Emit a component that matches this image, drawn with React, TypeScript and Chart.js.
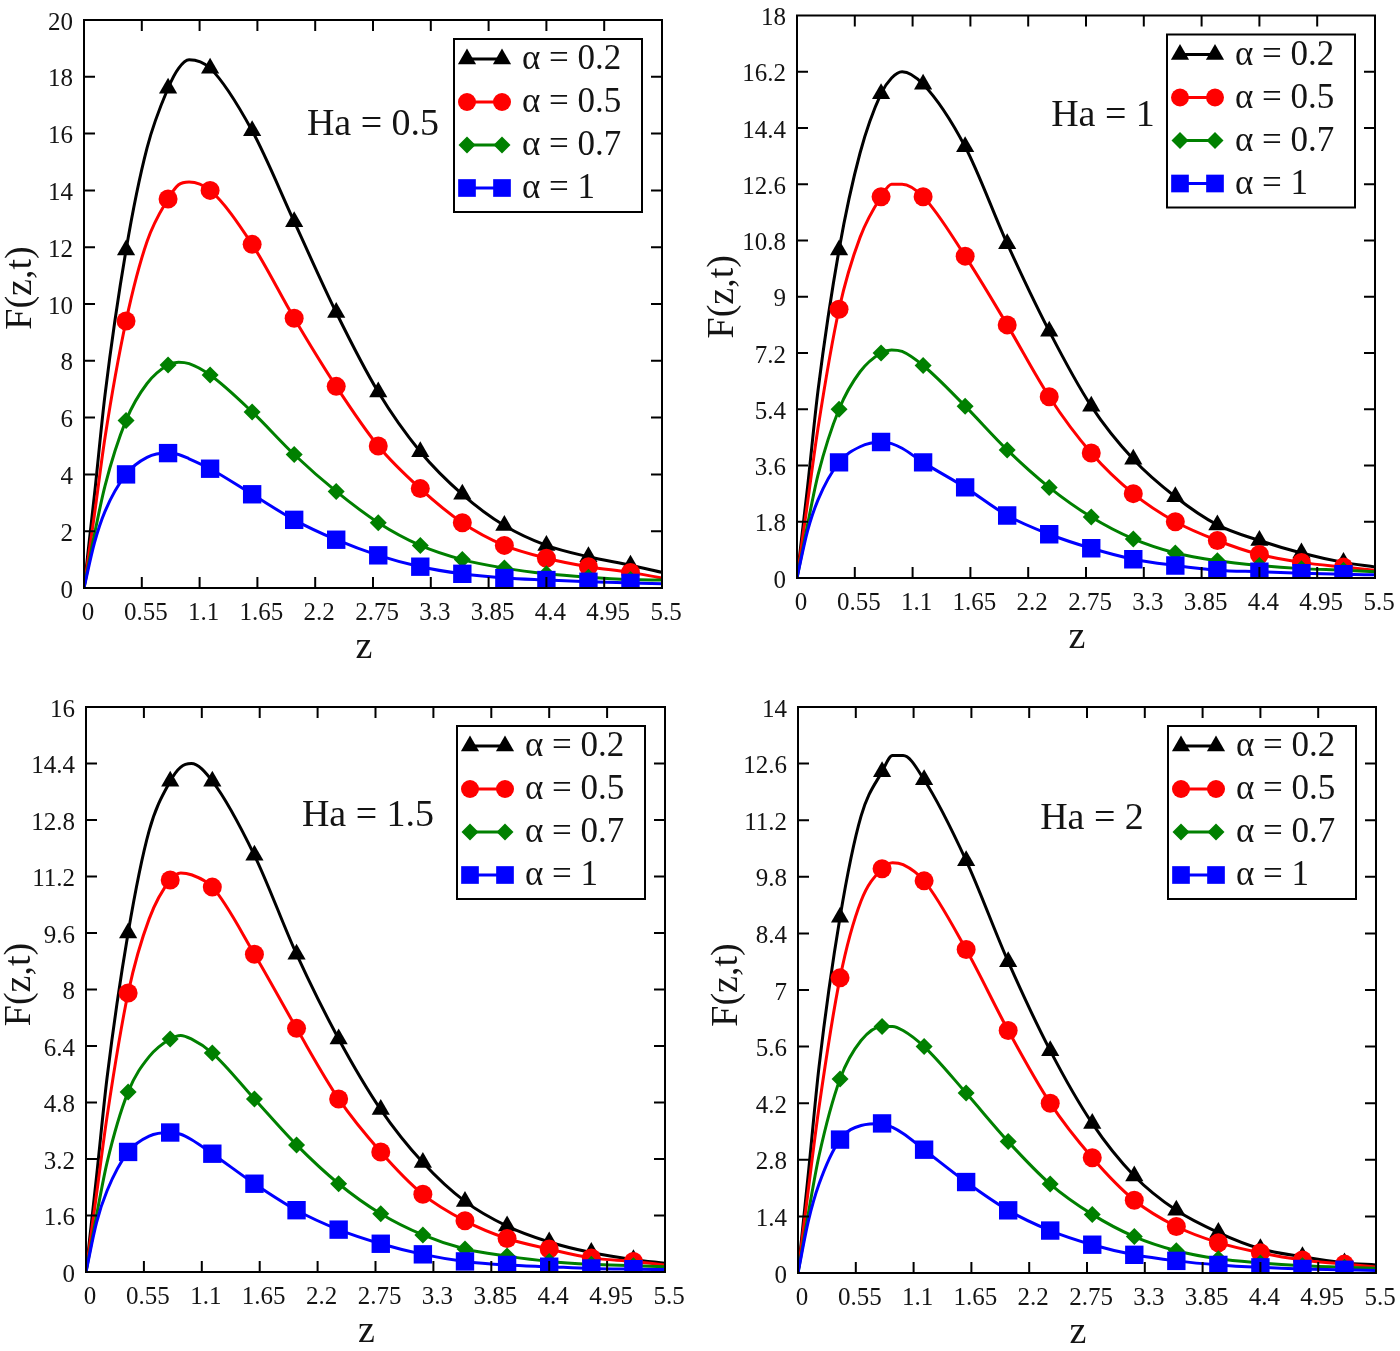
import React, { useEffect, useRef } from "react";
import { Chart, registerables } from "chart.js";

Chart.register(...registerables);

// ---------- data ----------
const Z = [0, 0.1, 0.2, 0.4, 0.6, 0.8, 0.9, 1.0, 1.2, 1.6, 2.0, 2.4, 2.8, 3.2, 3.6, 4.0, 4.4, 4.8, 5.2, 5.5];

const X_TICKS = [0, 0.55, 1.1, 1.65, 2.2, 2.75, 3.3, 3.85, 4.4, 4.95, 5.5];
const X_TICK_LABELS = ["0", "0.55", "1.1", "1.65", "2.2", "2.75", "3.3", "3.85", "4.4", "4.95", "5.5"];

const ALPHA_LABELS = ["\u03b1 = 0.2", "\u03b1 = 0.5", "\u03b1 = 0.7", "\u03b1 = 1"];
const HA_LABELS = ["Ha = 0.5", "Ha = 1", "Ha = 1.5", "Ha = 2"];

const Y_TICKS_HA05 = [0, 2, 4, 6, 8, 10, 12, 14, 16, 18, 20];
const Y_LABELS_HA05 = ["0", "2", "4", "6", "8", "10", "12", "14", "16", "18", "20"];
const Y_TICKS_HA1 = [0, 1.8, 3.6, 5.4, 7.2, 9, 10.8, 12.6, 14.4, 16.2, 18];
const Y_LABELS_HA1 = ["0", "1.8", "3.6", "5.4", "7.2", "9", "10.8", "12.6", "14.4", "16.2", "18"];
const Y_TICKS_HA15 = [0, 1.6, 3.2, 4.8, 6.4, 8, 9.6, 11.2, 12.8, 14.4, 16];
const Y_LABELS_HA15 = ["0", "1.6", "3.2", "4.8", "6.4", "8", "9.6", "11.2", "12.8", "14.4", "16"];
const Y_TICKS_HA2 = [0, 1.4, 2.8, 4.2, 5.6, 7, 8.4, 9.8, 11.2, 12.6, 14];
const Y_LABELS_HA2 = ["0", "1.4", "2.8", "4.2", "5.6", "7", "8.4", "9.8", "11.2", "12.6", "14"];

// Ha = 0.5
const HA05_A02 = [0, 3.3, 6.8, 11.9, 15.5, 17.6, 18.3, 18.6, 18.3, 16.1, 12.9, 9.7, 6.9, 4.8, 3.3, 2.2, 1.5, 1.1, 0.8, 0.55];
const HA05_A05 = [0, 2.6, 5.3, 9.4, 12.2, 13.7, 14.2, 14.3, 14.0, 12.1, 9.5, 7.1, 5.0, 3.5, 2.3, 1.5, 1.05, 0.75, 0.55, 0.35];
const HA05_A07 = [0, 1.9, 3.6, 5.9, 7.2, 7.85, 7.95, 7.9, 7.5, 6.2, 4.7, 3.4, 2.3, 1.5, 1.0, 0.7, 0.5, 0.38, 0.3, 0.28];
const HA05_A1 = [0, 1.6, 2.7, 4.0, 4.6, 4.75, 4.7, 4.55, 4.2, 3.3, 2.4, 1.7, 1.15, 0.75, 0.5, 0.35, 0.28, 0.22, 0.18, 0.15];

// Ha = 1
const HA1_A02 = [0, 2.9, 6.0, 10.5, 13.6, 15.5, 16.0, 16.2, 15.8, 13.8, 10.7, 7.9, 5.5, 3.8, 2.6, 1.7, 1.2, 0.8, 0.5, 0.35];
const HA1_A05 = [0, 2.4, 4.8, 8.6, 10.9, 12.2, 12.6, 12.6, 12.2, 10.3, 8.1, 5.8, 4.0, 2.7, 1.8, 1.2, 0.75, 0.5, 0.35, 0.25];
const HA1_A07 = [0, 1.7, 3.3, 5.4, 6.6, 7.2, 7.3, 7.25, 6.8, 5.5, 4.1, 2.9, 1.95, 1.25, 0.8, 0.55, 0.4, 0.3, 0.25, 0.2];
const HA1_A1 = [0, 1.5, 2.5, 3.7, 4.2, 4.35, 4.3, 4.15, 3.7, 2.9, 2.0, 1.4, 0.95, 0.6, 0.4, 0.25, 0.2, 0.15, 0.12, 0.1];

// Ha = 1.5
const HA15_A02 = [0, 2.7, 5.5, 9.6, 12.5, 13.9, 14.3, 14.4, 13.9, 11.8, 9.0, 6.6, 4.6, 3.1, 2.0, 1.3, 0.85, 0.55, 0.35, 0.25];
const HA15_A05 = [0, 2.2, 4.4, 7.9, 10.0, 11.1, 11.3, 11.25, 10.9, 9.0, 6.9, 4.9, 3.4, 2.2, 1.45, 0.95, 0.65, 0.4, 0.3, 0.2];
const HA15_A07 = [0, 1.6, 3.1, 5.1, 6.1, 6.6, 6.7, 6.6, 6.2, 4.9, 3.6, 2.5, 1.65, 1.05, 0.65, 0.45, 0.3, 0.22, 0.18, 0.15];
const HA15_A1 = [0, 1.4, 2.3, 3.4, 3.85, 3.95, 3.9, 3.75, 3.35, 2.5, 1.75, 1.2, 0.8, 0.5, 0.3, 0.2, 0.15, 0.1, 0.08, 0.07];

// Ha = 2
const HA2_A02 = [0, 2.5, 5.1, 8.8, 11.3, 12.4, 12.8, 12.8, 12.2, 10.2, 7.7, 5.5, 3.7, 2.4, 1.55, 1.0, 0.6, 0.4, 0.25, 0.2];
const HA2_A05 = [0, 2.1, 4.1, 7.3, 9.2, 10.0, 10.15, 10.1, 9.7, 8.0, 6.0, 4.2, 2.85, 1.8, 1.15, 0.75, 0.5, 0.32, 0.22, 0.15];
const HA2_A07 = [0, 1.5, 2.9, 4.8, 5.75, 6.1, 6.1, 6.0, 5.6, 4.45, 3.25, 2.2, 1.45, 0.9, 0.55, 0.35, 0.25, 0.18, 0.14, 0.12];
const HA2_A1 = [0, 1.3, 2.2, 3.3, 3.65, 3.7, 3.6, 3.45, 3.05, 2.25, 1.55, 1.05, 0.7, 0.45, 0.3, 0.2, 0.14, 0.1, 0.08, 0.06];

// ---------- styles ----------
const FONT = "'Liberation Serif', 'Times New Roman', serif";
const TEXT = "#141414";
const SERIES_STYLE = [
  { color: "#000000", point: "triangle", r: 10.5 },
  { color: "#ff0000", point: "circle", r: 9.5 },
  { color: "#008000", point: "rectRot", r: 8.5 },
  { color: "#0000ff", point: "rect", r: 13 },
];

type Panel = {
  ha: string;
  yMax: number;
  yTicks: number[];
  yLabels: string[];
  series: number[][];
  left: number;
  top: number;
  width: number;
  height: number;
  area: { l: number; r: number; t: number; b: number };
  haPos: [number, number];
  yTitle: [number, number];
};

const PANELS: Panel[] = [
  {
    ha: HA_LABELS[0], yMax: 20, yTicks: Y_TICKS_HA05, yLabels: Y_LABELS_HA05,
    series: [HA05_A02, HA05_A05, HA05_A07, HA05_A1],
    left: 0, top: 0, width: 700, height: 675,
    area: { l: 84, r: 662, t: 20, b: 588 }, haPos: [373, 125], yTitle: [21, -16],
  },
  {
    ha: HA_LABELS[1], yMax: 18, yTicks: Y_TICKS_HA1, yLabels: Y_LABELS_HA1,
    series: [HA1_A02, HA1_A05, HA1_A07, HA1_A1],
    left: 700, top: 0, width: 700, height: 675,
    area: { l: 97, r: 675, t: 12, b: 578 }, haPos: [403, 116], yTitle: [23, 0],
  },
  {
    ha: HA_LABELS[2], yMax: 16, yTicks: Y_TICKS_HA15, yLabels: Y_LABELS_HA15,
    series: [HA15_A02, HA15_A05, HA15_A07, HA15_A1],
    left: 0, top: 675, width: 700, height: 676,
    area: { l: 86, r: 665, t: 32, b: 597 }, haPos: [368, 141], yTitle: [20, -5],
  },
  {
    ha: HA_LABELS[3], yMax: 14, yTicks: Y_TICKS_HA2, yLabels: Y_LABELS_HA2,
    series: [HA2_A02, HA2_A05, HA2_A07, HA2_A1],
    left: 700, top: 675, width: 700, height: 676,
    area: { l: 98, r: 676, t: 32, b: 598 }, haPos: [392, 144], yTitle: [27, -5],
  },
];

const isMarker = (z: number) => z > 0 && Math.abs(z / 0.4 - Math.round(z / 0.4)) < 1e-6;

function drawMarker(ctx: CanvasRenderingContext2D, style: string, x: number, y: number, r: number, color: string) {
  ctx.save();
  ctx.fillStyle = color;
  ctx.beginPath();
  if (style === "triangle") {
    ctx.moveTo(x, y - r);
    ctx.lineTo(x + r * 0.866, y + r * 0.5);
    ctx.lineTo(x - r * 0.866, y + r * 0.5);
    ctx.closePath();
  } else if (style === "circle") {
    ctx.arc(x, y, r, 0, Math.PI * 2);
  } else if (style === "rectRot") {
    ctx.moveTo(x, y - r);
    ctx.lineTo(x + r, y);
    ctx.lineTo(x, y + r);
    ctx.lineTo(x - r, y);
    ctx.closePath();
  } else {
    const h = r * Math.SQRT1_2;
    ctx.rect(x - h, y - h, 2 * h, 2 * h);
  }
  ctx.fill();
  ctx.restore();
}

function decorPlugin(p: Panel) {
  return {
    id: "decor",
    afterDatasetsDraw(chart: any) {
      const ctx: CanvasRenderingContext2D = chart.ctx;
      const { left, right, top, bottom } = chart.chartArea;
      const xs = chart.scales.x;
      const ys = chart.scales.y;
      ctx.save();
      ctx.strokeStyle = "#000";
      ctx.lineWidth = 2;
      ctx.strokeRect(left, top, right - left, bottom - top);
      const tl = 11;
      ctx.beginPath();
      X_TICKS.forEach((v) => {
        const px = xs.getPixelForValue(v);
        if (px <= left + 1 || px >= right - 1) return;
        ctx.moveTo(px, bottom);
        ctx.lineTo(px, bottom - tl);
        ctx.moveTo(px, top);
        ctx.lineTo(px, top + tl);
      });
      p.yTicks.forEach((v) => {
        const py = ys.getPixelForValue(v);
        if (py <= top + 1 || py >= bottom - 1) return;
        ctx.moveTo(left, py);
        ctx.lineTo(left + tl, py);
        ctx.moveTo(right, py);
        ctx.lineTo(right - tl, py);
      });
      ctx.stroke();
      ctx.restore();
    },
    afterDraw(chart: any) {
      const ctx: CanvasRenderingContext2D = chart.ctx;
      const { left, right, top, bottom } = chart.chartArea;
      ctx.save();
      ctx.fillStyle = TEXT;
      ctx.textBaseline = "middle";
      ctx.textAlign = "center";
      // Ha label
      ctx.font = `38px ${FONT}`;
      ctx.fillText(p.ha, p.haPos[0], p.haPos[1]);
      // x title
      ctx.font = `38px ${FONT}`;
      ctx.fillText("z", (left + right) / 2 - 9, bottom + 60);
      // y title
      ctx.save();
      ctx.translate(p.yTitle[0], (top + bottom) / 2 + p.yTitle[1]);
      ctx.rotate(-Math.PI / 2);
      ctx.font = `38px ${FONT}`;
      ctx.fillText("F(z,t)", 0, 0);
      ctx.restore();
      // legend
      const bw = 188, bh = 173;
      const bx = right - 20 - bw;
      const by = top + 19;
      ctx.fillStyle = "#fff";
      ctx.fillRect(bx, by, bw, bh);
      ctx.strokeStyle = "#000";
      ctx.lineWidth = 2;
      ctx.strokeRect(bx, by, bw, bh);
      ALPHA_LABELS.forEach((lab, i) => {
        const st = SERIES_STYLE[i];
        const cy = by + 20 + i * 43;
        const x1 = bx + 13, x2 = bx + 48;
        ctx.strokeStyle = st.color;
        ctx.lineWidth = 3;
        ctx.beginPath();
        ctx.moveTo(x1, cy);
        ctx.lineTo(x2, cy);
        ctx.stroke();
        const rr = st.point === "rect" ? 12.5 : st.point === "circle" ? 9 : st.r;
        drawMarker(ctx, st.point, x1, cy, rr, st.color);
        drawMarker(ctx, st.point, x2, cy, rr, st.color);
        ctx.fillStyle = TEXT;
        ctx.textAlign = "left";
        ctx.font = `35px ${FONT}`;
        ctx.fillText(lab, bx + 68, cy + 1);
      });
      ctx.restore();
    },
  };
}

function PanelChart({ p }: { p: Panel }) {
  const ref = useRef<HTMLCanvasElement | null>(null);
  useEffect(() => {
    const canvas = ref.current;
    if (!canvas) return;
    const datasets = p.series.map((vals, si) => {
      const st = SERIES_STYLE[si];
      return {
        label: ALPHA_LABELS[si],
        data: Z.map((z, i) => ({ x: z, y: vals[i] })),
        borderColor: st.color,
        backgroundColor: st.color,
        borderWidth: 3,
        pointStyle: st.point,
        pointRadius: (c: any) => (c.raw && isMarker(c.raw.x) ? st.r : 0),
        pointHoverRadius: 0,
        pointBorderWidth: 0,
        pointBackgroundColor: st.color,
        cubicInterpolationMode: "monotone",
        fill: false,
        order: 4 - si,
      };
    });
    const chart = new Chart(canvas, {
      type: "line",
      data: { datasets } as any,
      options: {
        animation: false,
        responsive: false,
        devicePixelRatio: 1,
        events: [],
        layout: {
          padding: { left: 0, bottom: 0, top: p.area.t, right: p.width - p.area.r },
        },
        plugins: { legend: { display: false }, tooltip: { enabled: false } },
        scales: {
          x: {
            type: "linear",
            min: 0,
            max: 5.5,
            grid: { display: false },
            border: { display: false },
            afterBuildTicks: (s: any) => {
              s.ticks = X_TICKS.map((v) => ({ value: v }));
            },
            afterFit: (s: any) => {
              s.height = p.height - p.area.b;
            },
            ticks: {
              autoSkip: false,
              maxRotation: 0,
              minRotation: 0,
              padding: 5,
              labelOffset: 4,
              color: TEXT,
              font: { family: FONT, size: 25, lineHeight: 1 },
              callback: (_v: any, i: number) => X_TICK_LABELS[i],
            },
          },
          y: {
            type: "linear",
            min: 0,
            max: p.yMax,
            grid: { display: false },
            border: { display: false },
            afterBuildTicks: (s: any) => {
              s.ticks = p.yTicks.map((v) => ({ value: v }));
            },
            afterFit: (s: any) => {
              s.width = p.area.l;
            },
            ticks: {
              autoSkip: false,
              padding: 3,
              labelOffset: 3,
              color: TEXT,
              font: { family: FONT, size: 25, lineHeight: 1 },
              callback: (_v: any, i: number) => p.yLabels[i],
            },
          },
        },
      } as any,
      plugins: [decorPlugin(p) as any],
    });
    return () => chart.destroy();
  }, [p]);
  return (
    <canvas
      ref={ref}
      width={p.width}
      height={p.height}
      style={{ position: "absolute", left: p.left, top: p.top, width: p.width, height: p.height }}
    />
  );
}

export default function App() {
  return (
    <div style={{ position: "absolute", left: 0, top: 0, width: 1400, height: 1351, background: "#fff" }}>
      {PANELS.map((p, i) => (
        <PanelChart key={i} p={p} />
      ))}
    </div>
  );
}
